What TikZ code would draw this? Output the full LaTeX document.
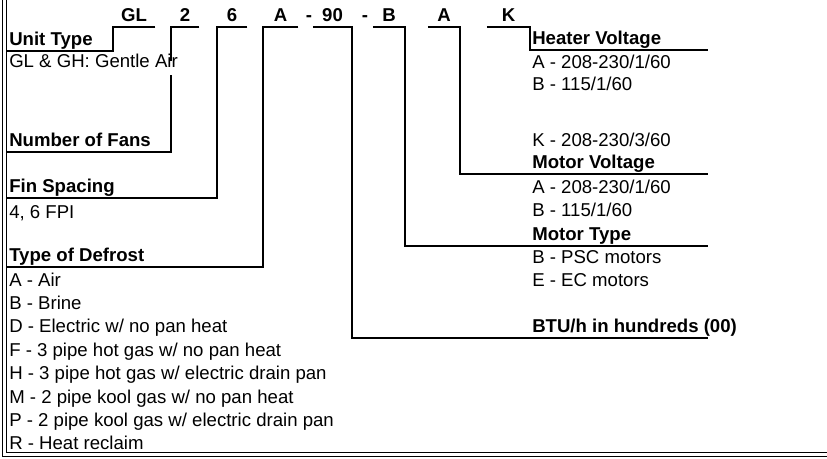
\documentclass[tikz,border=0pt]{standalone}
\usepackage{fontspec}
\setmainfont{Liberation Sans}
\usetikzlibrary{positioning,calc}
\tikzset{
    every picture/.style={line width=0.5pt},
    code/.style={font=\fontsize{18.6}{23}\selectfont\bfseries,anchor=base,inner sep=0pt,text depth=5.5pt},
    head/.style={font=\fontsize{18.6}{23}\selectfont\bfseries,anchor=base west,inner sep=0pt,text depth=5.5pt},
    item/.style={font=\fontsize{18.6}{23}\selectfont,anchor=base west,inner sep=0pt},
    link/.style={line width=2pt}
}

\begin{document}
\begin{tikzpicture}[x=1pt,y=-1pt]
        \useasboundingbox (0,0) rectangle (827,458);
        % Frame (double line, left and bottom)
        \draw[line width=1.1pt] (2.5,0) -- (2.5,456.5) -- (827,456.5);
        \draw[line width=1.6pt] (6.5,0) -- (6.5,452.5) -- (827,452.5);
        \coordinate (frame) at (6.5,0);
        \coordinate (rend) at (708,0);

        % Model number
        \node[code,minimum width=42pt] (cGL) at (134,21) {GL};
        \node[code,minimum width=28pt] (c2) at (185,21) {2};
        \node[code,minimum width=30pt] (c6) at (232,21) {6};
        \node[code,minimum width=35pt] (cA) at (280.5,21) {A};
        \node[code] (dash1) at (309,21) {-};
        \node[code,minimum width=39pt] (c90) at (332.5,21) {90};
        \node[code] (dash2) at (365,21) {-};
        \node[code,minimum width=32pt] (cB) at (389,21) {B};
        \node[code,minimum width=32pt] (cMV) at (444,21) {A};
        \node[code,minimum width=43pt] (cK) at (508.5,21) {K};

        % Left column
        \node[head] (unit) at (9,45) {Unit Type};
        \node[head] (fans) at (9,146) {Number of Fans};
        \node[head] (fin) at (9,192) {Fin Spacing};
        \node[item] (fin1) at (9,218) {4, 6 FPI};
        \node[head] (defrost) at (9,261) {Type of Defrost};
        \node[item] (def1) at (9,286) {A - Air};
        \node[item] (def2) at (9,309.4) {B - Brine};
        \node[item] (def3) at (9,332.8) {D - Electric w/ no pan heat};
        \node[item] (def4) at (9,356.2) {F - 3 pipe hot gas w/ no pan heat};
        \node[item] (def5) at (9,379.6) {H - 3 pipe hot gas w/ electric drain pan};
        \node[item] (def6) at (9,403) {M - 2 pipe kool gas w/ no pan heat};
        \node[item] (def7) at (9,426.4) {P - 2 pipe kool gas w/ electric drain pan};
        \node[item] (def8) at (9,449.8) {R - Heat reclaim};

        % Right column
        \node[head] (heater) at (532,44) {Heater Voltage};
        \node[item] (heat1) at (532,68) {A - 208-230/1/60};
        \node[item] (heat2) at (532,90) {B - 115/1/60};
        \node[item] (heat3) at (532,146) {K - 208-230/3/60};
        \node[head] (motv) at (532,168) {Motor Voltage};
        \node[item] (motv1) at (532,193) {A - 208-230/1/60};
        \node[item] (motv2) at (532,216) {B - 115/1/60};
        \node[head] (mott) at (532,240) {Motor Type};
        \node[item] (mott1) at (532,263) {B - PSC motors};
        \node[item] (mott2) at (532,286) {E - EC motors};
        \node[head] (btu) at (532,332.5) {BTU/h in hundreds (00)};

        % Leaders to the left
        \draw[link] (cGL.south east) -- (cGL.south west) |- (unit.south -| frame);
        \draw[link] (c2.south east) -- (c2.south west) |- (fans.south -| frame);
        \draw[link] (c6.south east) -- (c6.south west) |- (fin.south -| frame);
        \draw[link] (cA.south east) -- (cA.south west) |- (defrost.south -| frame);

        % Leaders to the right
        \draw[link] (c90.south west) -- (c90.south east) |- (btu.south -| rend);
        \draw[link] (cB.south west) -- (cB.south east) |- (mott.south -| rend);
        \draw[link] (cMV.south west) -- (cMV.south east) |- (motv.south -| rend);
        \draw[link] (cK.south west) -- (cK.south east) |- (heater.south -| rend);

        % Text over the leader of the fan count
        \node[item,fill=white,text height=6pt,text depth=8pt] (unit1) at (9,67) {GL \& GH: Gentle Air};
\end{tikzpicture}
\end{document}
